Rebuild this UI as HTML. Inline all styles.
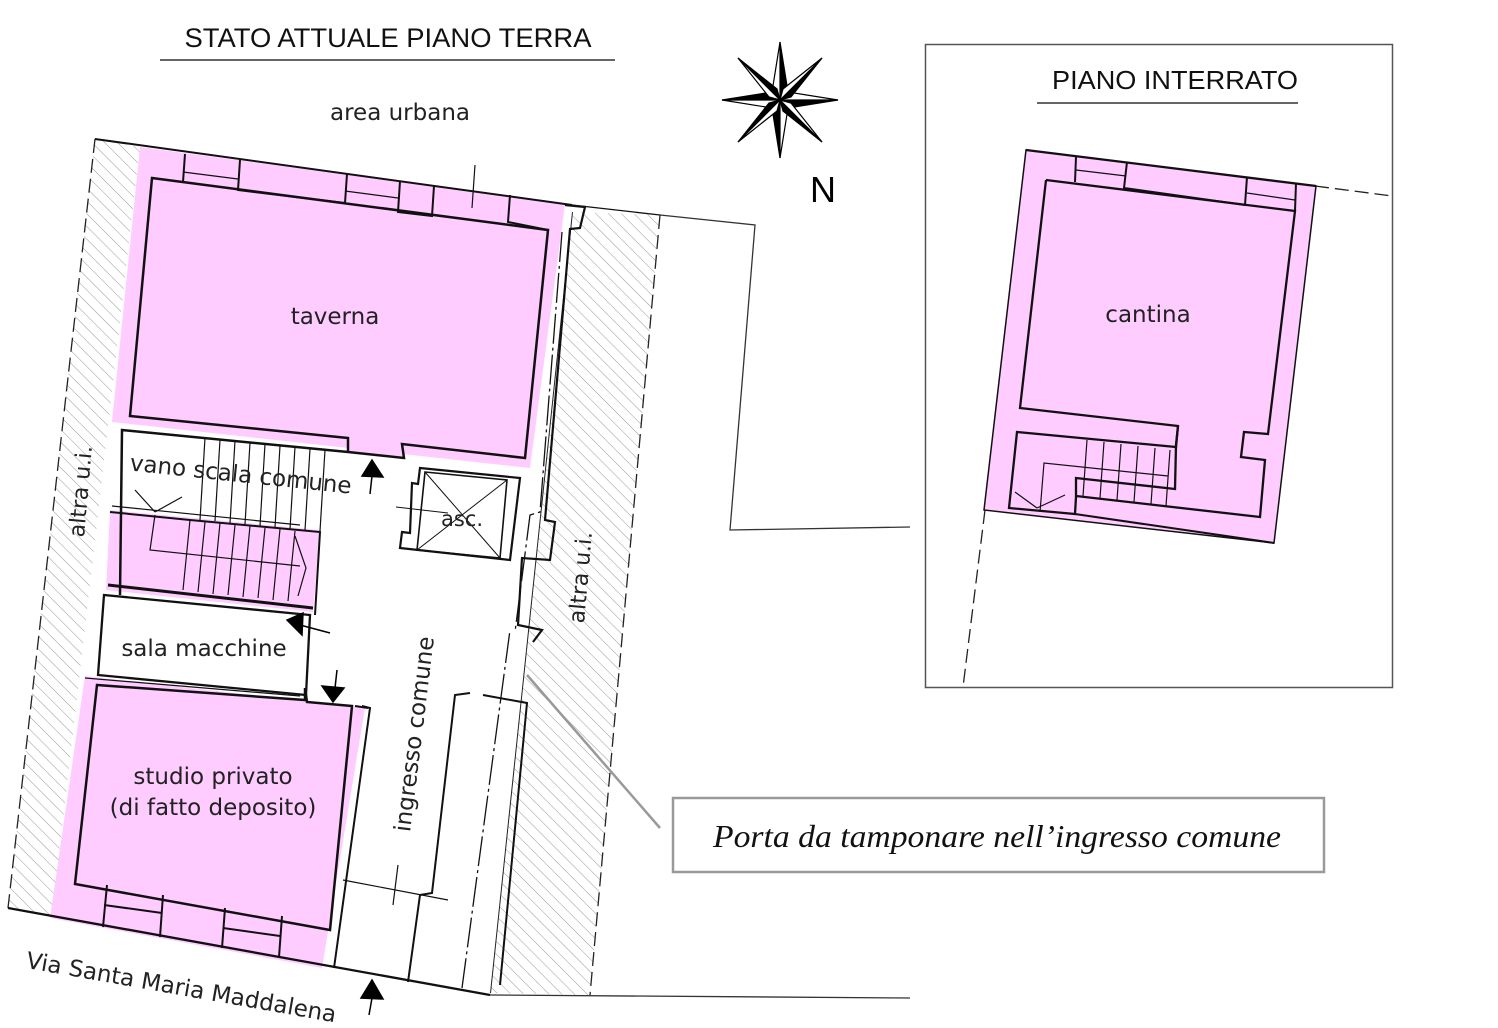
<!DOCTYPE html>
<html><head><meta charset="utf-8"><style>
html,body{margin:0;padding:0;background:#fff;}
svg{display:block;}
</style></head><body>
<svg width="1498" height="1028" viewBox="0 0 1498 1028" xmlns="http://www.w3.org/2000/svg" font-family="'Liberation Sans', 'DejaVu Sans', sans-serif">
<defs>
<pattern id="h" width="9" height="9" patternUnits="userSpaceOnUse" patternTransform="rotate(-45)">
<line x1="0" y1="0" x2="0" y2="9" stroke="#999" stroke-width="1"/>
</pattern>
</defs>
<rect width="1498" height="1028" fill="#fff"/>

<!-- titles -->
<text x="388" y="47" font-size="27" text-anchor="middle" fill="#111" textLength="407" lengthAdjust="spacingAndGlyphs">STATO ATTUALE PIANO TERRA</text>
<line x1="160" y1="60" x2="615" y2="60" stroke="#333" stroke-width="1.5"/>
<text x="400" y="120" font-size="23" text-anchor="middle" fill="#222" font-family="'DejaVu Sans',sans-serif">area urbana</text>

<!-- compass -->
<g transform="translate(780,100)" fill="#000" stroke="#000" stroke-width="1.2">
<polygon points="0,-58 8,-8 0,0"/><polygon points="0,-58 -8,-8 0,0" fill="#fff"/>
<polygon points="0,58 -8,8 0,0"/><polygon points="0,58 8,8 0,0" fill="#fff"/>
<polygon points="-58,0 -8,-8 0,0"/><polygon points="-58,0 -8,8 0,0" fill="#fff"/>
<polygon points="58,0 8,8 0,0"/><polygon points="58,0 8,-8 0,0" fill="#fff"/>
<polygon points="-42,-42 -3,-11 0,0"/><polygon points="-42,-42 -11,-3 0,0" fill="#fff"/>
<polygon points="42,42 3,11 0,0"/><polygon points="42,42 11,3 0,0" fill="#fff"/>
<polygon points="42,-42 11,-3 0,0"/><polygon points="42,-42 3,-11 0,0" fill="#fff"/>
<polygon points="-42,42 -11,3 0,0"/><polygon points="-42,42 -3,11 0,0" fill="#fff"/>
</g>
<text x="823" y="202" font-size="36" text-anchor="middle" fill="#000">N</text>

<!-- site lines -->
<polyline points="660,215 755,225 730,530 910,527" fill="none" stroke="#333" stroke-width="1.3"/>
<line x1="490" y1="995" x2="910" y2="998" stroke="#333" stroke-width="1.3"/>

<!-- hatch bands -->
<polygon points="95,139 140,147 52,918 8,908" fill="url(#h)"/>
<polygon points="572,212 660,215 590,995 490,993" fill="url(#h)"/>
<line x1="95" y1="139" x2="8" y2="908" stroke="#222" stroke-width="1.3" stroke-dasharray="14,6"/>
<line x1="660" y1="215" x2="590" y2="995" stroke="#222" stroke-width="1.3" stroke-dasharray="14,6"/>
<line x1="572" y1="212" x2="490" y2="993" stroke="#222" stroke-width="2"/>

<!-- white building area -->
<polygon points="140,147 572,212 490,993 52,918" fill="#fff"/>

<!-- pink taverna -->
<polygon points="140,147 565,204 530,468 112,422" fill="#ffccff"/>
<polygon points="152,178 548,230 525,458 402,444 404,458 348,452 348,438 130,416" fill="#ffccff" stroke="#111" stroke-width="2.5"/>
<g fill="none" stroke="#111" stroke-width="2">
<polyline points="185,154 183,182"/><polyline points="240,160 238,190 345,203 347,174"/>
<polyline points="400,181 398,212 432,216 434,186"/>
<polyline points="510,195 508,222 548,230"/>
</g>
<line x1="183" y1="172" x2="238" y2="179" stroke="#111" stroke-width="1.2"/>
<line x1="345" y1="191" x2="398" y2="198" stroke="#111" stroke-width="1.2"/>
<line x1="475" y1="165" x2="472" y2="208" stroke="#111" stroke-width="1.2"/>
<line x1="95" y1="139" x2="572" y2="205" stroke="#111" stroke-width="2"/>
<line x1="572" y1="205" x2="660" y2="215" stroke="#111" stroke-width="1.3"/>
<text x="335" y="324" font-size="23" text-anchor="middle" fill="#222" font-family="'DejaVu Sans',sans-serif">taverna</text>
<!-- right wall strip -->
<polyline points="565,205 585,207 580,228 570,229 545,520 555,522 550,560 522,558 518,625 542,630 533,642" fill="none" stroke="#111" stroke-width="2.2"/>
<polyline points="562,232 540,512 530,515 515,632" fill="none" stroke="#111" stroke-width="1.3" stroke-dasharray="30,4,3,4"/>

<!-- stair pink -->
<polygon points="110,510 320,530 313,612 106,590" fill="#ffccff"/>
<polygon points="122,430 348,452 346,462 122,442" fill="#fff"/>
<polyline points="120,595 122,430 348,452" fill="none" stroke="#111" stroke-width="2.5"/>
<polyline points="110,512 190,520 320,532 315,615" fill="none" stroke="#111" stroke-width="2"/>
<line x1="108" y1="585" x2="313" y2="608" stroke="#111" stroke-width="3"/>
<g stroke="#111" stroke-width="1.2" fill="none">
<line x1="205" y1="438" x2="200" y2="520"/><line x1="220" y1="440" x2="215" y2="521"/><line x1="235" y1="441" x2="230" y2="523"/><line x1="250" y1="443" x2="245" y2="524"/><line x1="265" y1="444" x2="260" y2="526"/><line x1="280" y1="446" x2="275" y2="527"/><line x1="295" y1="447" x2="290" y2="529"/><line x1="310" y1="449" x2="305" y2="530"/><line x1="325" y1="450" x2="320" y2="531"/>
<line x1="190" y1="520" x2="183" y2="590"/><line x1="205" y1="522" x2="198" y2="592"/><line x1="220" y1="523" x2="213" y2="594"/><line x1="235" y1="525" x2="228" y2="595"/><line x1="250" y1="526" x2="243" y2="597"/><line x1="265" y1="528" x2="258" y2="598"/><line x1="280" y1="529" x2="273" y2="600"/><line x1="295" y1="531" x2="288" y2="601"/>
<polyline points="155,515 150,550 300,566"/><polyline points="295,536 306,568 298,596"/>
<line x1="112" y1="506" x2="300" y2="525"/>
<line x1="135" y1="490" x2="155" y2="512"/><line x1="155" y1="512" x2="182" y2="497"/>
</g>
<text transform="translate(240,482) rotate(6)" font-size="23" text-anchor="middle" fill="#222" font-family="'DejaVu Sans',sans-serif">vano scala comune</text>

<!-- sala macchine -->
<polygon points="104,595 310,615 306,695 98,675" fill="#fff" stroke="#111" stroke-width="2.3"/>
<text x="204" y="656" font-size="23" text-anchor="middle" fill="#222" font-family="'DejaVu Sans',sans-serif">sala macchine</text>

<!-- studio -->
<polygon points="85,676 365,708 322,968 50,918" fill="#ffccff"/>
<polygon points="97,685 305,700 305,688 307,702 352,706 330,930 75,884" fill="#ffccff" stroke="#111" stroke-width="2.5"/>
<line x1="355" y1="706" x2="368" y2="708" stroke="#111" stroke-width="2"/>
<polyline points="362,706 370,708 334,968" fill="none" stroke="#111" stroke-width="2"/>
<line x1="85" y1="678" x2="300" y2="696" stroke="#111" stroke-width="1.2"/>
<g fill="none" stroke="#111" stroke-width="2">
<polyline points="107,885 103,927"/><polyline points="163,895 160,937"/><polyline points="225,908 222,948"/><polyline points="282,916 279,957"/>
<line x1="104" y1="905" x2="162" y2="913"/><line x1="223" y1="928" x2="280" y2="936"/>
</g>
<line x1="8" y1="908" x2="490" y2="995" stroke="#111" stroke-width="2.3"/>
<text x="213" y="784" font-size="23" text-anchor="middle" fill="#222" font-family="'DejaVu Sans',sans-serif">studio privato</text>
<text x="213" y="815" font-size="23" text-anchor="middle" fill="#222" font-family="'DejaVu Sans',sans-serif">(di fatto deposito)</text>

<!-- corridor lower walls -->
<polyline points="408,982 420,895 432,893 455,695 470,693" fill="none" stroke="#111" stroke-width="2"/>
<polyline points="483,695 527,703 500,985" fill="none" stroke="#111" stroke-width="2"/>
<polyline points="462,988 510,630" fill="none" stroke="#111" stroke-width="1.3" stroke-dasharray="30,4,3,4"/>
<line x1="343" y1="880" x2="448" y2="900" stroke="#111" stroke-width="1.2"/>
<line x1="398" y1="865" x2="393" y2="905" stroke="#111" stroke-width="1.2"/>
<text transform="translate(422,735) rotate(-83)" font-size="23" text-anchor="middle" fill="#222" font-family="'DejaVu Sans',sans-serif">ingresso comune</text>

<!-- elevator -->
<polygon points="420,468 520,478 510,560 400,548 402,532 410,533 412,483 418,484" fill="#fff" stroke="#111" stroke-width="2.2"/>
<polygon points="425,472 507,480 500,558 417,550" fill="none" stroke="#111" stroke-width="1.6"/>
<line x1="425" y1="472" x2="500" y2="558" stroke="#111" stroke-width="1"/>
<line x1="507" y1="480" x2="417" y2="550" stroke="#111" stroke-width="1"/>
<line x1="396" y1="507" x2="448" y2="513" stroke="#111" stroke-width="1"/>
<text x="462" y="526" font-size="21" text-anchor="middle" fill="#222" font-family="'DejaVu Sans',sans-serif">asc.</text>

<!-- arrows -->
<g fill="#000" stroke="#000" stroke-width="1.5">
<polygon points="372,460 362,476 383,477"/><line x1="372" y1="476" x2="370" y2="494"/>
<polygon points="287,620 303,613 302,635"/><line x1="300" y1="625" x2="330" y2="633"/>
<polygon points="333,702 322,686 344,688"/><line x1="335" y1="688" x2="337" y2="670"/>
<polygon points="372,980 361,998 383,999"/><line x1="372" y1="998" x2="369" y2="1015"/>
</g>

<text transform="translate(88,492) rotate(-85)" font-size="22" text-anchor="middle" fill="#222" font-family="'DejaVu Sans',sans-serif">altra u.i.</text>
<text transform="translate(588,578) rotate(-85)" font-size="22" text-anchor="middle" fill="#222" font-family="'DejaVu Sans',sans-serif">altra u.i.</text>
<text transform="translate(180,995) rotate(10)" font-size="23" text-anchor="middle" fill="#222" font-family="'DejaVu Sans',sans-serif">Via Santa Maria Maddalena</text>

<!-- callout -->
<line x1="660" y1="828" x2="527" y2="675" stroke="#999" stroke-width="2.5"/>
<rect x="673" y="798" width="651" height="74" fill="#fff" stroke="#999" stroke-width="2.5"/>
<text x="997" y="847" font-size="32" text-anchor="middle" font-style="italic" fill="#111" font-family="'Liberation Serif',serif" textLength="568" lengthAdjust="spacingAndGlyphs">Porta da tamponare nell’ingresso comune</text>

<!-- right panel -->
<rect x="925.5" y="44.5" width="467" height="643" fill="none" stroke="#555" stroke-width="1.5"/>
<text x="1175" y="89" font-size="26" text-anchor="middle" fill="#111" textLength="246" lengthAdjust="spacingAndGlyphs">PIANO INTERRATO</text>
<line x1="1037" y1="103" x2="1298" y2="103" stroke="#333" stroke-width="1.5"/>
<line x1="1315" y1="186" x2="1392" y2="196" stroke="#222" stroke-width="1.3" stroke-dasharray="14,6"/>
<line x1="985" y1="510" x2="963" y2="687" stroke="#222" stroke-width="1.3" stroke-dasharray="14,6"/>
<polygon points="1026,150 1316,186 1274,543 984,510" fill="#ffccff" stroke="#111" stroke-width="1.5"/>
<polyline points="1046,180 1295,211 1268,434 1244,432 1241,457 1265,460 1260,517 1076,496 1076,478 1175,489 1176,445 1178,426 1020,408 1046,180" fill="#ffccff" stroke="#111" stroke-width="2.3"/>
<polyline points="1178,426 1176,447 1017,432 1009,508 1075,514 1076,497" fill="none" stroke="#111" stroke-width="2.3"/>
<line x1="1075" y1="514" x2="1274" y2="543" stroke="#111" stroke-width="2"/>
<line x1="1026" y1="150" x2="1316" y2="186" stroke="#111" stroke-width="2.3"/>
<g fill="none" stroke="#111" stroke-width="2">
<polyline points="1076,157 1075,182"/><polyline points="1127,162 1124,188 1245,205 1247,177"/><polyline points="1296,183 1295,211"/>
</g>
<line x1="1076" y1="170" x2="1126" y2="176" stroke="#111" stroke-width="1.2"/>
<line x1="1247" y1="193" x2="1295" y2="200" stroke="#111" stroke-width="1.2"/>
<g stroke="#111" stroke-width="1.2" fill="none">
<line x1="1087" y1="440" x2="1083" y2="496"/><line x1="1104" y1="442" x2="1100" y2="498"/><line x1="1121" y1="444" x2="1117" y2="500"/><line x1="1138" y1="446" x2="1134" y2="502"/><line x1="1155" y1="448" x2="1151" y2="504"/><line x1="1170" y1="450" x2="1166" y2="506"/>
<polyline points="1040,512 1044,463 1168,476"/>
<line x1="1015" y1="492" x2="1037" y2="508"/><line x1="1037" y1="508" x2="1065" y2="495"/>
</g>
<text x="1148" y="322" font-size="23" text-anchor="middle" fill="#222" font-family="'DejaVu Sans',sans-serif">cantina</text>
</svg>
</body></html>
